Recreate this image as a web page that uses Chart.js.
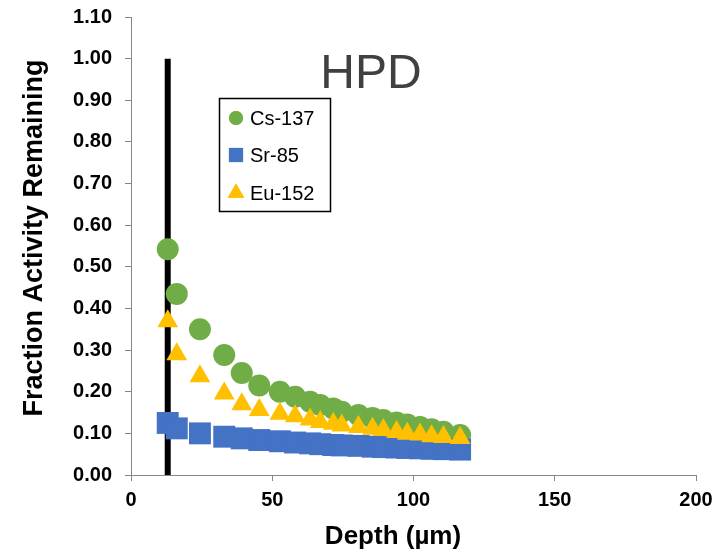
<!DOCTYPE html>
<html>
<head>
<meta charset="utf-8">
<script src="https://cdn.jsdelivr.net/npm/chart.js@4.4.1/dist/chart.umd.min.js"></script>
<style>
html,body{margin:0;padding:0;background:#fff;}
#wrap{width:721px;height:556px;position:relative;}
</style>
</head>
<body>
<div id="wrap"><canvas id="c" width="721" height="556"></canvas></div>
<script>
const depth = [13, 16.2, 24.4, 33, 39.2, 45.4, 52.7, 58.1, 63.4, 67, 71.6, 74.6, 80.5, 85.5, 89.3, 94, 97.8, 102.3, 106.4, 110.6, 116.5];
const cs137 = [0.542, 0.435, 0.350, 0.288, 0.245, 0.215, 0.200, 0.188, 0.176, 0.168, 0.160, 0.152, 0.144, 0.137, 0.132, 0.126, 0.121, 0.115, 0.110, 0.104, 0.096];
const sr85  = [0.125, 0.112, 0.100, 0.092, 0.088, 0.084, 0.081, 0.078, 0.076, 0.074, 0.072, 0.071, 0.070, 0.068, 0.067, 0.066, 0.065, 0.064, 0.063, 0.062, 0.061];
const eu152 = [0.369, 0.290, 0.237, 0.196, 0.170, 0.156, 0.147, 0.141, 0.133, 0.127, 0.123, 0.119, 0.115, 0.111, 0.108, 0.103, 0.099, 0.097, 0.093, 0.091, 0.089];
const markerLineX = [13, 13];
const markerLineY = [0, 1.0];
const seriesNames = ['Cs-137', 'Sr-85', 'Eu-152'];
const xTicks = [0, 50, 100, 150, 200];
const chartTitle = 'HPD';
const yTitle = 'Fraction Activity Remaining';
const xTitle = 'Depth (µm)';

const GREEN = '#70AD47', BLUE = '#4472C4', GOLD = '#FFC000';
const FONT = '"Liberation Sans", Arial, sans-serif';
const toXY = (xs, ys) => xs.map((x, i) => ({x: x, y: ys[i]}));

const legendPlugin = {
  id: 'customLegend',
  afterDraw(chart) {
    const ctx = chart.ctx;
    ctx.save();
    // y-axis title
    ctx.save();
    ctx.translate(35, 238);
    ctx.rotate(-Math.PI / 2);
    ctx.fillStyle = '#000';
    ctx.font = 'bold 27px ' + FONT;
    ctx.textAlign = 'center';
    ctx.textBaseline = 'middle';
    ctx.fillText(yTitle, 0, 0);
    ctx.restore();
    // x-axis title
    ctx.fillStyle = '#000';
    ctx.font = 'bold 26px ' + FONT;
    ctx.textAlign = 'center';
    ctx.textBaseline = 'middle';
    ctx.fillText(xTitle, 393, 537);
    // chart title
    ctx.fillStyle = '#404040';
    ctx.font = '48px ' + FONT;
    ctx.textAlign = 'center';
    ctx.textBaseline = 'alphabetic';
    ctx.fillText(chartTitle, 371, 88);
    // legend
    ctx.strokeStyle = '#000';
    ctx.lineWidth = 1.5;
    ctx.strokeRect(219.5, 98.5, 111, 113);
    const items = [
      {name: seriesNames[0], color: GREEN, style: 'circle', r: 7, y: 118},
      {name: seriesNames[1], color: BLUE, style: 'rect', r: 10, y: 155},
      {name: seriesNames[2], color: GOLD, style: 'triangle', r: 9.5, y: 193}
    ];
    ctx.font = '20px ' + FONT;
    ctx.textAlign = 'left';
    ctx.textBaseline = 'middle';
    items.forEach(it => {
      ctx.fillStyle = it.color;
      ctx.strokeStyle = it.color;
      Chart.helpers.drawPoint(ctx, {pointStyle: it.style, radius: it.r, borderWidth: 0, rotation: 0}, 236, it.y);
      ctx.fill();
      ctx.fillStyle = '#000';
      ctx.fillText(it.name, 250, it.y + 1);
    });
    ctx.restore();
  }
};

new Chart(document.getElementById('c'), {
  type: 'scatter',
  data: {
    datasets: [
      {label: seriesNames[2], data: toXY(depth, eu152), pointStyle: 'triangle', pointRadius: 12, backgroundColor: GOLD, borderColor: GOLD, pointBorderWidth: 0, order: 0},
      {label: seriesNames[1], data: toXY(depth, sr85), pointStyle: 'rect', pointRadius: 15.5, backgroundColor: BLUE, borderColor: BLUE, pointBorderWidth: 0, order: 1},
      {label: seriesNames[0], data: toXY(depth, cs137), pointStyle: 'circle', pointRadius: 11, backgroundColor: GREEN, borderColor: GREEN, pointBorderWidth: 0, order: 2},
      {label: 'line', type: 'line', data: toXY(markerLineX, markerLineY), borderColor: '#000', borderWidth: 6, pointRadius: 0, showLine: true, fill: false, order: 3}
    ]
  },
  options: {
    responsive: false,
    animation: false,
    devicePixelRatio: 1,
    layout: {padding: {left: 0, right: 25, top: 17, bottom: 0}},
    plugins: {legend: {display: false}, tooltip: {enabled: false}},
    scales: {
      x: {
        type: 'linear', min: 0, max: 200,
        afterBuildTicks: (s) => { s.ticks = xTicks.map(v => ({value: v})); },
        afterFit: (s) => { s.height = 81; s.paddingLeft = 0; s.paddingRight = 0; },
        grid: {display: true, drawOnChartArea: false, drawTicks: true, tickLength: 6, color: '#868686'},
        border: {color: '#868686', width: 1},
        ticks: {color: '#000', padding: 7, font: {family: FONT, size: 20, weight: 'bold'}, maxRotation: 0},
        title: {display: false}
      },
      y: {
        type: 'linear', min: 0, max: 1.1,
        ticks: {stepSize: 0.1, color: '#000', padding: 13, callback: (v) => v.toFixed(2), font: {family: FONT, size: 20, weight: 'bold'}},
        afterFit: (s) => { s.width = 131; s.paddingTop = 0; s.paddingBottom = 0; },
        grid: {display: true, drawOnChartArea: false, drawTicks: true, tickLength: 6, color: '#868686'},
        border: {color: '#868686', width: 1},
        title: {display: false}
      }
    }
  },
  plugins: [legendPlugin]
});
</script>
</body>
</html>
